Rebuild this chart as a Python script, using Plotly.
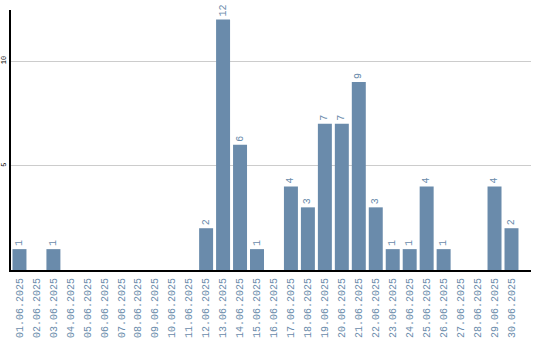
import plotly.graph_objects as go

dates = [f"{d:02d}.06.2025" for d in range(1, 31)]
values = [1, 0, 1, 0, 0, 0, 0, 0, 0, 0, 0, 2, 12, 6, 1, 0, 4, 3, 7, 7, 9, 3, 1, 1, 4, 1, 0, 0, 4, 2]
labels = [str(v) if v else "" for v in values]
ytick_vals = [5, 10]

color = "#6a8bab"
font = "Liberation Mono"

fig = go.Figure(go.Bar(
    x=list(range(len(dates))), y=values,
    text=labels, textposition="outside", textangle=-90,
    textfont=dict(family=font, size=10, color=color),
    marker=dict(color=color, line=dict(width=0)),
    cliponaxis=False,
))
fig.update_layout(
    width=540, height=340,
    margin=dict(l=11, r=9, t=10, b=70),
    paper_bgcolor="white", plot_bgcolor="white",
    bargap=0.176, showlegend=False,
    xaxis=dict(
        tickmode="array", tickvals=list(range(len(dates))), ticktext=dates,
        range=[-0.5, 30.15], tickangle=-90, automargin=False,
        tickfont=dict(family=font, size=10, color=color),
        showline=True, linecolor="black", linewidth=2, showgrid=False,
        ticks="", zeroline=False, ticklabelstandoff=2,
    ),
    yaxis=dict(
        range=[0, 12.45], tickvals=ytick_vals, tickangle=-90, automargin=False,
        tickfont=dict(family=font, size=7, color="black"),
        showline=True, linecolor="black", linewidth=2,
        showgrid=True, gridcolor="#cccccc", gridwidth=1,
        ticks="", zeroline=False, ticklabelstandoff=0,
    ),
)
fig.write_html("out.html")
